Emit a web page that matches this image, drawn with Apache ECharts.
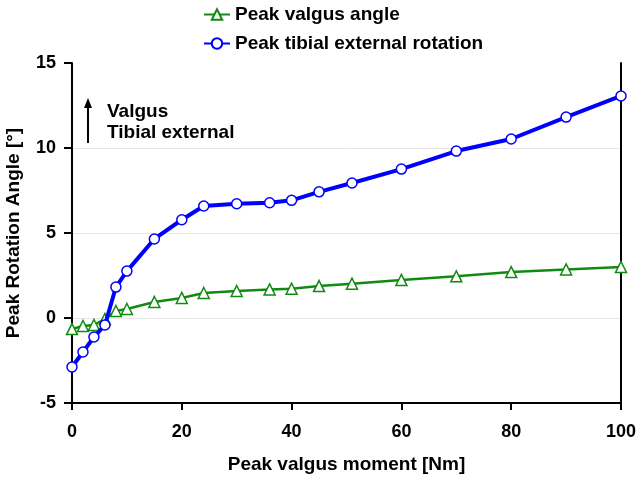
<!DOCTYPE html>
<html>
<head>
<meta charset="utf-8">
<script src="https://cdn.jsdelivr.net/npm/echarts@6/dist/echarts.min.js"></script>
<style>
  html, body { margin: 0; padding: 0; background: #fff; }
  #main { width: 637px; height: 477px; }
</style>
</head>
<body>
<div id="main"></div>
<script>
// moment values (Nm) and peak angles
var moment = [0, 2, 4, 6, 8, 10, 15, 20, 24, 30, 36, 40, 45, 51, 60, 70, 80, 90, 100];
var valgusAngle = [-0.65, -0.47, -0.41, -0.06, 0.41, 0.53, 0.94, 1.18, 1.47, 1.59, 1.68, 1.72, 1.88, 2.02, 2.24, 2.45, 2.7, 2.86, 3.0];
var tibialRotation = [-2.88, -2.0, -1.12, -0.41, 1.82, 2.76, 4.65, 5.78, 6.59, 6.72, 6.78, 6.92, 7.42, 7.94, 8.76, 9.82, 10.53, 11.82, 13.06];
var seriesNames = ['Peak valgus angle', 'Peak tibial external rotation'];

var FONT = 'Liberation Sans, Arial, sans-serif';

function pairs(xs, ys) {
  var out = [];
  for (var i = 0; i < xs.length; i++) out.push([xs[i], ys[i]]);
  return out;
}

var chart = echarts.init(document.getElementById('main'));

chart.setOption({
  backgroundColor: '#fff',
  animation: false,
  grid: { left: 72, right: 16, top: 63, bottom: 74, containLabel: false, outerBoundsMode: 'none' },
  legend: {
    orient: 'vertical',
    left: 198,
    top: 0,
    itemGap: 10,
    itemWidth: 26,
    itemHeight: 13,
    textStyle: { fontFamily: FONT, fontWeight: 'bold', fontSize: 19, color: '#000' },
    data: seriesNames
  },
  xAxis: {
    type: 'value',
    min: 0, max: 100, interval: 20,
    name: 'Peak valgus moment [Nm]',
    nameLocation: 'middle',
    nameGap: 52,
    nameTextStyle: { fontFamily: FONT, fontWeight: 'bold', fontSize: 19, color: '#000' },
    axisLine: { show: true, onZero: false, lineStyle: { color: '#000', width: 2 } },
    axisTick: { show: true, length: 7, lineStyle: { color: '#000', width: 2 } },
    axisLabel: { fontFamily: FONT, fontWeight: 'bold', fontSize: 18, color: '#000', margin: 20 },
    splitLine: { show: false }
  },
  yAxis: [{
    type: 'value',
    min: -5, max: 15, interval: 5,
    name: 'Peak Rotation Angle [°]',
    nameLocation: 'middle',
    nameGap: 49,
    nameRotate: 90,
    nameTextStyle: { fontFamily: FONT, fontWeight: 'bold', fontSize: 19, color: '#000' },
    axisLine: { show: true, onZero: false, lineStyle: { color: '#000', width: 2 } },
    axisTick: { show: true, length: 8, lineStyle: { color: '#000', width: 2 } },
    axisLabel: { fontFamily: FONT, fontWeight: 'bold', fontSize: 18, color: '#000', margin: 16 },
    splitLine: { show: true, showMaxLine: false, showMinLine: false, lineStyle: { color: '#e6e6e6', width: 1 } }
  }, {
    // right frame line only
    type: 'value',
    position: 'right',
    min: -5, max: 15, interval: 5,
    axisLine: { show: true, onZero: false, lineStyle: { color: '#000', width: 2 } },
    axisTick: { show: false },
    axisLabel: { show: false },
    splitLine: { show: false }
  }],
  graphic: [
    {
      type: 'line',
      shape: { x1: 88, y1: 143, x2: 88, y2: 106 },
      style: { stroke: '#000', lineWidth: 2 }
    },
    {
      type: 'polygon',
      shape: { points: [[88, 98], [84, 108], [92, 108]] },
      style: { fill: '#000' }
    },
    {
      type: 'text',
      left: 107, top: 102,
      style: { text: 'Valgus', font: 'bold 19px ' + FONT, fill: '#000' }
    },
    {
      type: 'text',
      left: 107, top: 123,
      style: { text: 'Tibial external', font: 'bold 19px ' + FONT, fill: '#000' }
    }
  ],
  series: [
    {
      name: seriesNames[0],
      type: 'line',
      data: pairs(moment, valgusAngle),
      symbol: 'triangle',
      symbolSize: 11,
      lineStyle: { color: '#128a12', width: 2.5 },
      itemStyle: { color: '#fff', borderColor: '#128a12', borderWidth: 1.5 },
      z: 2
    },
    {
      name: seriesNames[1],
      type: 'line',
      data: pairs(moment, tibialRotation),
      symbol: 'circle',
      symbolSize: 10,
      lineStyle: { color: '#0000ff', width: 4 },
      itemStyle: { color: '#fff', borderColor: '#0000ff', borderWidth: 1.5 },
      z: 3
    }
  ]
});
</script>
</body>
</html>
